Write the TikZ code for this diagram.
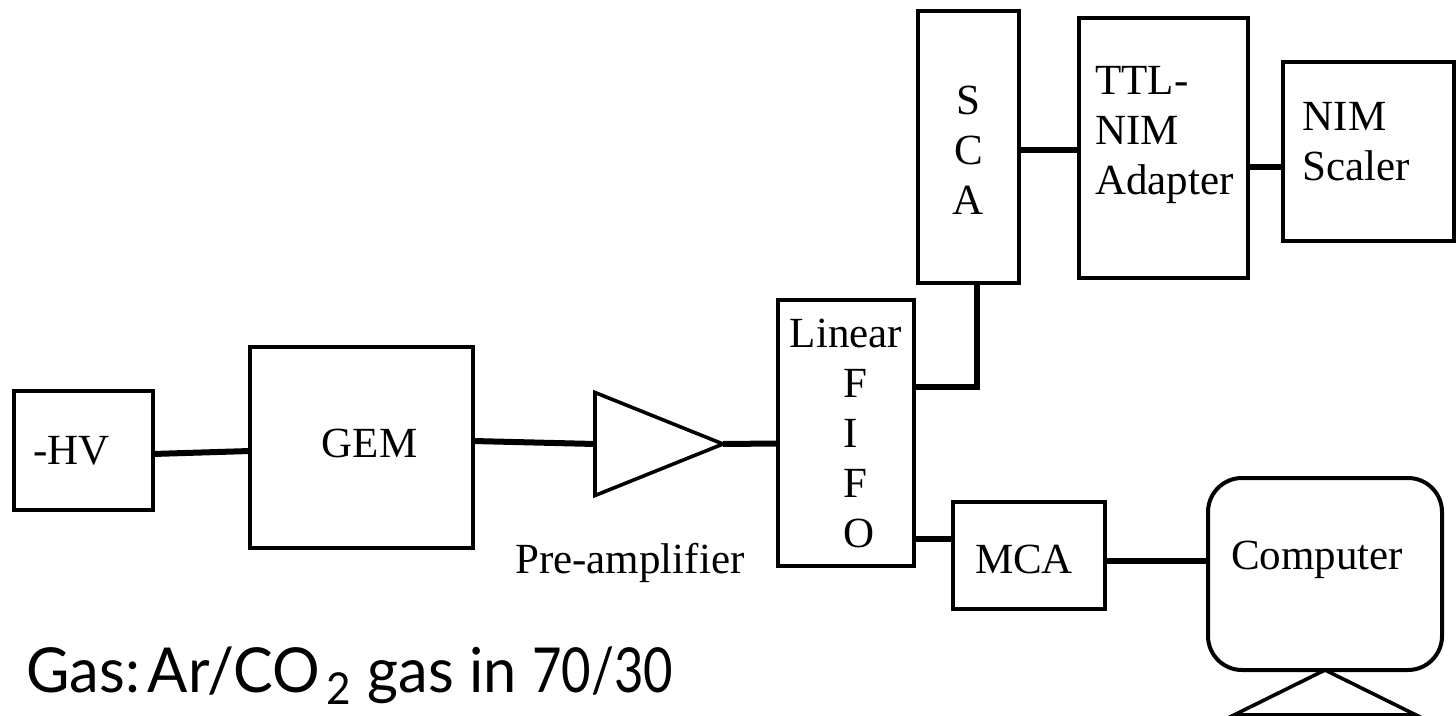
\documentclass[tikz,border=0pt]{standalone}
\usepackage{fontspec}
\setmainfont{Liberation Serif}
\newfontfamily\gasfont[FakeStretch=0.96]{Lato}
\newfontfamily\gasnum[FakeStretch=0.82]{Lato}
\usetikzlibrary{shapes.geometric,positioning}
\tikzstyle{dbox}  = [rectangle, draw, line width=2pt, outer sep=0pt, inner sep=0pt]
\tikzstyle{dlbl}  = [align=left, inner sep=0pt, font=\fontsize{21.5pt}{25pt}\selectfont]
\tikzstyle{dtri}  = [isosceles triangle, isosceles triangle stretches, draw, line width=1.8pt,
                     outer sep=0pt, inner sep=0pt]
\tikzstyle{dwire} = [line width=3pt]

\begin{document}
\begin{tikzpicture}
\useasboundingbox (0,0) rectangle (728pt,-358pt);
\begin{scope}
\clip (0,0) rectangle (728pt,-358pt);
% Detector side
\node[dbox, minimum width=69.5pt, minimum height=59.5pt] (hv) at (41.75pt,-225.25pt) {};
\node[dbox, minimum width=111.5pt, minimum height=100.5pt, right=48.5pt of hv, yshift=1.5pt] (gem) {};
\node[dtri, minimum width=51.5pt, minimum height=64pt, right=61pt of gem, yshift=1.75pt] (amp) {};
\node[dbox, minimum width=68pt, minimum height=132.5pt, right=27.5pt of amp, yshift=5.5pt] (fifo) {};
% Counting branch
\node[dbox, minimum width=50.5pt, minimum height=136pt, above=8.75pt of fifo, xshift=61.25pt] (sca) {};
\node[dbox, minimum width=84.5pt, minimum height=130pt, right=30pt of sca, yshift=-0.5pt] (ttl) {};
\node[dbox, minimum width=85.5pt, minimum height=89.5pt, right=17.5pt of ttl, yshift=-1.75pt] (nim) {};
% Spectrum branch
\node[dbox, minimum width=76pt, minimum height=53.5pt, right=19.5pt of fifo, yshift=-61.25pt] (mca) {};
\node[dbox, rounded corners=17pt, minimum width=117pt, minimum height=96pt, right=51.5pt of mca, yshift=-9.25pt] (comp) {};
\node[dtri, shape border rotate=90, minimum width=91pt, minimum height=22.5pt, anchor=apex] (stand) at (comp.south) {};
% Labels
\node[dlbl, xshift=-6pt] (hvtxt) at (hv) {-HV};
\node[dlbl, xshift=4pt, yshift=2pt] (gemtxt) at (gem) {GEM};
\node[dlbl, below=30.5pt of amp] (amptxt) {Pre-amplifier};
\node[dlbl] (fifotxt) at (fifo) {Linear\\\hspace*{27pt}F\\\hspace*{27pt}I\\\hspace*{27pt}F\\\hspace*{27pt}O};
\node[dlbl, align=center, yshift=-1.5pt] (scatxt) at (sca) {S\\C\\A};
\node[dlbl, yshift=6.5pt, xshift=0.5pt] (ttltxt) at (ttl) {TTL-\\NIM\\Adapter};
\node[dlbl, yshift=5pt, xshift=-6pt] (nimtxt) at (nim) {NIM\\Scaler};
\node[dlbl, xshift=-2.5pt, yshift=-2pt] (mcatxt) at (mca) {MCA};
\node[dlbl, xshift=-4pt, yshift=7pt] (comptxt) at (comp) {Computer};
\node[inner sep=0pt, font=\gasfont\fontsize{31pt}{36pt}\selectfont, below=91pt of hv.south west, xshift=6pt, anchor=base west] (gas)
  {Gas:\hspace{4pt}Ar/CO\hspace{3pt}\raisebox{-6pt}{\fontsize{22pt}{24pt}\selectfont 2}\hspace{1pt} gas in {\gasnum 70/30}};
% Wires
\draw[dwire] ([yshift=-1.75pt]hv.east) -- ([yshift=-1.75pt]gem.west);
\draw[dwire] ([yshift=3.25pt]gem.east) -- (amp.lower side);
\draw[dwire] (amp.apex) -- ([yshift=-5.25pt]fifo.west);
\draw[dwire] ([yshift=23pt]fifo.east) -| ([xshift=4.25pt]sca.south);
\draw[dwire] ([yshift=-1.5pt]sca.east) -- ([yshift=-1pt]ttl.west);
\draw[dwire] ([yshift=-9.5pt]ttl.east) -- ([yshift=-7.75pt]nim.west);
\draw[dwire] ([yshift=-53pt]fifo.east) -- ([yshift=8.25pt]mca.west);
\draw[dwire] ([yshift=-2.75pt]mca.east) -- ([yshift=6.5pt]comp.west);
\end{scope}
\end{tikzpicture}
\end{document}
